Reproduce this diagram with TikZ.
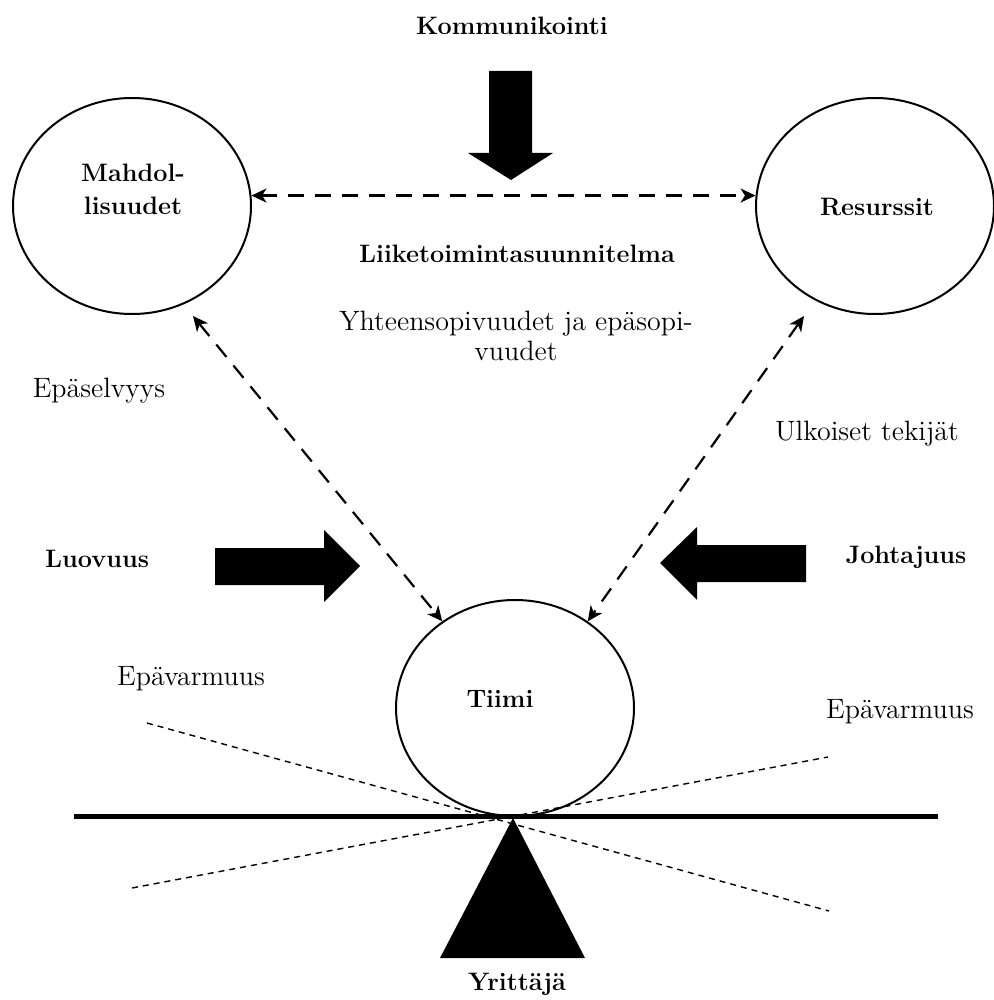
\documentclass[tikz,border=0pt]{standalone}
\usepackage{fontspec}
\usetikzlibrary{arrows.meta,calc,shapes.geometric}
\begin{document}
\begin{tikzpicture}[x=0.5pt,y=-0.5pt,
  ell/.style={draw,line width=1pt,ellipse,minimum width=119pt,minimum height=108pt,inner sep=0pt},
  lbl/.style={font=\fontsize{14}{15}\selectfont,anchor=base,inner sep=0pt},
  blbl/.style={font=\fontsize{12.6}{15}\selectfont\bfseries,anchor=base,inner sep=0pt},
  dasharrow/.style={line width=1.1pt,dash pattern=on 8pt off 5.5pt,
     {Stealth[length=7.5pt,width=7pt,inset=2.2pt]}-{Stealth[length=7.5pt,width=7pt,inset=2.2pt]}},
  unc/.style={line width=0.7pt,dash pattern=on 3pt off 2.5pt},
  bigarrow/.style={fill=black,draw=none}]
\useasboundingbox (0,0) rectangle (994,1000);

% ellipses
\node[ell] (M) at (132,206) {};
\node[ell] (R) at (875,206) {};
\node[ell] (T) at (515,708) {};

% uncertainty lines
\coordinate (uA1) at (147,723);
\coordinate (uA2) at (829,911);
\coordinate (uB1) at (132,888);
\coordinate (uB2) at (828,757);
\draw[unc] (uA1) -- (uA2);
\draw[unc] (uB1) -- (uB2);

% lever and fulcrum
\coordinate (L1) at (74,816);
\coordinate (L2) at (938,816);
\draw[line width=2.5pt] (L1) -- (L2);
\coordinate (F) at (513,818);
\fill (F) -- (585,958) -- (440,958) -- cycle;

% big arrows
\fill[bigarrow] (489,71) -- (532,71) -- (532,153) -- (553,153) -- (511,180) -- (468,153) -- (489,153) -- cycle;
\fill[bigarrow] (215,548) -- (324,548) -- (324,530) -- (360,566) -- (324,602) -- (324,585) -- (215,585) -- cycle;
\fill[bigarrow] (806,545) -- (697,545) -- (697,527) -- (660,563) -- (697,600) -- (697,582) -- (806,582) -- cycle;

% dashed connectors
\draw[dasharrow] (M.5) -- (R.175);
\coordinate (mEnd) at (193,316);
\coordinate (rEnd) at (804,316);
\draw[dasharrow] (mEnd) -- (T.130.7);
\draw[dasharrow] (rEnd) -- (T.50.1);

% labels
\node[blbl] (kom) at (512,35) {Kommunikointi};
\node[blbl,align=center,anchor=north] (mah) at (133,164) {Mahdol-\\[1.5pt]lisuudet};
\node[blbl] (res) at (877,215) {Resurssit};
\node[blbl] (lii) at (517,263) {Liiketoimintasuunnitelma};
\node[lbl,align=center,anchor=north] (yht) at (516,311) {Yhteensopivuudet ja epäsopi-\\vuudet};
\node[lbl] (eps) at (99,397) {Epäselvyys};
\node[lbl] (ulk) at (867,440) {Ulkoiset tekijät};
\node[blbl] (luo) at (97,567) {Luovuus};
\node[blbl] (joh) at (906,563) {Johtajuus};
\node[blbl] (tii) at (500,707) {Tiimi};
\node[lbl] (ep1) at (191,685) {Epävarmuus};
\node[lbl] (ep2) at (900,718) {Epävarmuus};
\node[blbl] (yri) at (517,990) {Yrittäjä};
\end{tikzpicture}
\end{document}
